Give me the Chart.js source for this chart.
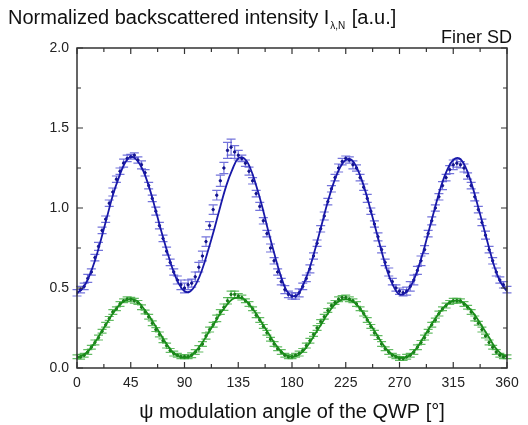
<!DOCTYPE html>
<html>
<head>
<meta charset="utf-8">
<script src="https://cdn.jsdelivr.net/npm/chart.js@4.4.1/dist/chart.umd.min.js"></script>
<style>
	html, body { margin: 0; padding: 0; background: #fff; }
	#wrap { width: 528px; height: 425px; position: relative; }
</style>
</head>
<body>
<div id="wrap"><canvas id="chart"></canvas></div>
<script>
// measured angles, every 3 degrees from 0 to 360
const dataAngles = Array.from({ length: 121 }, (_, i) => i * 3);
// fit curves, every 5 degrees
const fitAngles = Array.from({ length: 73 }, (_, i) => i * 5);

// blue series (upper) - measured
const blueData = [
	0.47,0.49,0.51,0.56,0.60,0.69,0.76,0.86,0.93,1.03,1.10,1.18,1.23,1.28,1.31,1.32,
	1.33,1.30,1.27,1.22,1.14,1.06,0.98,0.89,0.81,0.73,0.66,0.60,0.55,0.52,0.50,
	0.52,0.53,0.57,0.63,0.70,0.79,0.89,0.99,1.08,1.17,1.25,1.36,1.38,1.35,1.33,
	1.31,1.28,1.23,1.17,1.09,1.01,0.92,0.84,0.75,0.67,0.60,0.54,0.49,0.46,0.45,
	0.45,0.47,0.51,0.56,0.62,0.70,0.78,0.87,0.95,1.04,1.12,1.19,1.25,1.29,1.31,
	1.30,1.27,1.25,1.19,1.13,1.06,0.98,0.90,0.82,0.74,0.66,0.60,0.54,0.50,0.48,
	0.47,0.48,0.51,0.55,0.61,0.67,0.74,0.84,0.92,1.00,1.07,1.14,1.19,1.24,1.27,
	1.28,1.27,1.25,1.20,1.14,1.07,0.99,0.91,0.83,0.74,0.67,0.60,0.55,0.52,0.49
];
const blueErr = [
	0.02,0.02,0.02,0.025,0.02,0.02,0.025,0.02,0.02,0.02,0.025,0.02,0.02,0.025,0.02,0.015,
	0.015,0.02,0.025,0.02,0.02,0.02,0.025,0.02,0.02,0.025,0.02,0.02,0.025,0.03,0.03,
	0.03,0.025,0.03,0.03,0.03,0.03,0.025,0.03,0.03,0.035,0.035,0.05,0.05,0.04,0.03,
	0.02,0.02,0.025,0.02,0.02,0.025,0.02,0.02,0.025,0.02,0.02,0.02,0.025,0.02,0.02,
	0.02,0.025,0.02,0.02,0.025,0.02,0.02,0.02,0.025,0.02,0.02,0.02,0.025,0.02,0.015,
	0.02,0.025,0.02,0.02,0.02,0.025,0.02,0.02,0.025,0.02,0.02,0.025,0.02,0.02,0.02,
	0.02,0.025,0.03,0.03,0.025,0.03,0.025,0.02,0.025,0.02,0.02,0.025,0.02,0.025,0.03,
	0.025,0.02,0.025,0.02,0.02,0.025,0.02,0.02,0.025,0.02,0.02,0.025,0.02,0.02,0.02
];
const blueFit = [
	0.47,0.50,0.57,0.67,0.80,0.94,1.08,1.19,1.28,1.32,
	1.30,1.24,1.14,1.01,0.87,0.74,0.62,0.53,0.48,
	0.48,0.53,0.62,0.74,0.87,1.01,1.14,1.24,1.31,
	1.31,1.25,1.14,1.01,0.86,0.72,0.59,0.49,0.45,
	0.46,0.53,0.63,0.76,0.90,1.04,1.16,1.25,1.30,
	1.30,1.24,1.14,1.01,0.87,0.73,0.60,0.51,0.46,
	0.47,0.52,0.61,0.73,0.87,1.01,1.14,1.24,1.30,
	1.31,1.26,1.16,1.03,0.89,0.75,0.62,0.53,0.48
];

// green series (lower) - measured
const greenData = [
	0.07,0.07,0.08,0.10,0.13,0.16,0.19,0.23,0.27,0.31,0.35,0.37,0.40,0.42,0.43,0.43,
	0.42,0.41,0.38,0.35,0.32,0.28,0.24,0.21,0.17,0.14,0.11,0.09,0.08,0.07,0.07,
	0.07,0.08,0.10,0.12,0.15,0.20,0.24,0.27,0.31,0.35,0.38,0.42,0.46,0.46,0.45,
	0.44,0.42,0.40,0.37,0.33,0.30,0.26,0.22,0.18,0.15,0.12,0.10,0.08,0.07,0.07,
	0.08,0.09,0.11,0.14,0.17,0.21,0.25,0.29,0.32,0.36,0.39,0.41,0.43,0.44,0.44,
	0.43,0.42,0.40,0.37,0.34,0.30,0.26,0.22,0.19,0.15,0.12,0.10,0.08,0.07,0.06,
	0.06,0.07,0.08,0.10,0.13,0.16,0.19,0.23,0.27,0.30,0.34,0.37,0.39,0.41,0.42,
	0.42,0.42,0.40,0.38,0.35,0.31,0.28,0.24,0.20,0.16,0.13,0.10,0.08,0.07,0.07
];
const greenErr = [
	0.012,0.015,0.012,0.015,0.012,0.015,0.015,0.012,0.015,0.012,0.015,0.012,0.015,0.012,0.015,0.012,
	0.015,0.012,0.015,0.012,0.015,0.015,0.012,0.015,0.012,0.015,0.012,0.015,0.012,0.012,0.012,
	0.012,0.015,0.015,0.02,0.015,0.02,0.015,0.015,0.02,0.015,0.02,0.02,0.02,0.02,0.015,
	0.015,0.012,0.015,0.012,0.015,0.015,0.012,0.015,0.012,0.015,0.012,0.015,0.012,0.012,0.012,
	0.012,0.015,0.012,0.015,0.015,0.012,0.015,0.012,0.015,0.012,0.015,0.012,0.015,0.012,0.015,
	0.015,0.012,0.015,0.012,0.015,0.015,0.012,0.015,0.012,0.015,0.012,0.015,0.012,0.012,0.012,
	0.012,0.015,0.012,0.015,0.015,0.012,0.015,0.012,0.015,0.012,0.015,0.012,0.015,0.012,0.015,
	0.015,0.012,0.015,0.012,0.015,0.015,0.012,0.015,0.012,0.015,0.012,0.015,0.012,0.012,0.012
];
const greenFit = [
	0.065,0.08,0.11,0.16,0.22,0.28,0.34,0.39,0.42,0.43,
	0.42,0.38,0.33,0.27,0.21,0.15,0.10,0.075,0.065,
	0.075,0.11,0.16,0.22,0.28,0.34,0.39,0.43,0.44,
	0.43,0.39,0.34,0.28,0.22,0.16,0.11,0.08,0.07,
	0.08,0.11,0.16,0.22,0.28,0.34,0.39,0.42,0.43,
	0.42,0.39,0.34,0.28,0.22,0.16,0.11,0.08,0.065,
	0.065,0.09,0.13,0.19,0.25,0.31,0.36,0.40,0.42,
	0.42,0.40,0.36,0.31,0.25,0.19,0.13,0.09,0.07
];

const xMajor = [0, 45, 90, 135, 180, 225, 270, 315, 360];
const yMajor = [0, 0.5, 1.0, 1.5, 2.0];

const FONT = '"Liberation Sans", Arial, sans-serif';

function pts(xs, ys) {
	return xs.map((x, i) => ({ x: x, y: ys[i] }));
}

// error bars drawn under the points
const errorBars = {
	id: 'errorBars',
	beforeDatasetsDraw(chart) {
		const ctx = chart.ctx;
		const xs = chart.scales.x, ys = chart.scales.y;
		ctx.save();
		chart.data.datasets.forEach((ds) => {
			if (!ds.err) { return; }
			ctx.strokeStyle = ds.errColor;
			ctx.lineWidth = 1.2;
			ds.data.forEach((p, i) => {
				const px = xs.getPixelForValue(p.x);
				const top = ys.getPixelForValue(p.y + ds.err[i]);
				const bot = ys.getPixelForValue(p.y - ds.err[i]);
				ctx.beginPath();
				ctx.moveTo(px, top); ctx.lineTo(px, bot);
				ctx.moveTo(px - 4.5, top); ctx.lineTo(px + 4.5, top);
				ctx.moveTo(px - 4.5, bot); ctx.lineTo(px + 4.5, bot);
				ctx.stroke();
			});
		});
		ctx.restore();
	}
};

// frame, inward ticks and titles
const frame = {
	id: 'frame',
	afterDraw(chart) {
		const ctx = chart.ctx;
		const a = chart.chartArea;
		const xs = chart.scales.x, ys = chart.scales.y;
		ctx.save();
		ctx.strokeStyle = '#333';
		ctx.lineWidth = 1.5;
		ctx.strokeRect(a.left, a.top, a.right - a.left, a.bottom - a.top);
		ctx.lineWidth = 1.2;
		ctx.beginPath();
		for (let v = 0; v <= 360; v += 22.5) {
			const px = xs.getPixelForValue(v);
			const len = (v % 45 === 0) ? 6 : 4;
			ctx.moveTo(px, a.bottom); ctx.lineTo(px, a.bottom - len);
			ctx.moveTo(px, a.top); ctx.lineTo(px, a.top + len);
		}
		for (let v = 0; v <= 2.0001; v += 0.25) {
			const py = ys.getPixelForValue(v);
			const len = (Math.round(v * 100) % 50 === 0) ? 6 : 4;
			ctx.moveTo(a.left, py); ctx.lineTo(a.left + len, py);
			ctx.moveTo(a.right, py); ctx.lineTo(a.right - len, py);
		}
		ctx.stroke();

		ctx.fillStyle = '#111';
		ctx.textBaseline = 'alphabetic';
		ctx.textAlign = 'left';
		ctx.font = '20px ' + FONT;
		const t1 = 'Normalized backscattered intensity I';
		ctx.fillText(t1, 8, 24);
		let x = 8 + ctx.measureText(t1).width + 1;
		ctx.font = '10px ' + FONT;
		ctx.fillText('\u03bb,N', x, 29);
		x += ctx.measureText('\u03bb,N').width + 1;
		ctx.font = '20px ' + FONT;
		ctx.fillText(' [a.u.]', x, 24);

		ctx.font = '18px ' + FONT;
		ctx.textAlign = 'right';
		ctx.fillText('Finer SD', 512, 43);

		ctx.font = '20px ' + FONT;
		ctx.textAlign = 'center';
		ctx.fillText('\u03c8 modulation angle of the QWP [\u00b0]', (a.left + a.right) / 2, 418);
		ctx.restore();
	}
};

new Chart(document.getElementById('chart'), {
	type: 'scatter',
	data: {
		datasets: [
			{
				type: 'line', label: 'blue fit', data: pts(fitAngles, blueFit),
				borderColor: '#1818a8', borderWidth: 1.8, pointRadius: 0, tension: 0.4, order: 0
			},
			{
				type: 'line', label: 'green fit', data: pts(fitAngles, greenFit),
				borderColor: '#1a8c1a', borderWidth: 1.8, pointRadius: 0, tension: 0.4, order: 0
			},
			{
				label: 'blue', data: pts(dataAngles, blueData), err: blueErr,
				errColor: 'rgba(80, 80, 210, 0.8)',
				backgroundColor: '#12128c', borderColor: '#12128c', pointRadius: 1.2, order: 1
			},
			{
				label: 'green', data: pts(dataAngles, greenData), err: greenErr,
				errColor: 'rgba(60, 170, 60, 0.8)',
				backgroundColor: '#167816', borderColor: '#167816', pointRadius: 1.2, order: 1
			}
		]
	},
	options: {
		responsive: true,
		maintainAspectRatio: false,
		animation: false,
		layout: { padding: { top: 48, right: 21, left: 0, bottom: 0 } },
		plugins: {
			legend: { display: false },
			tooltip: { enabled: false }
		},
		scales: {
			x: {
				type: 'linear', min: 0, max: 360,
				afterBuildTicks: (s) => { s.ticks = xMajor.map((v) => ({ value: v })); },
				afterFit: (s) => { s.height = 57; },
				grid: { display: false, drawTicks: false },
				border: { display: false },
				ticks: { color: '#222', padding: 7, font: { family: FONT, size: 14 } }
			},
			y: {
				type: 'linear', min: 0, max: 2,
				afterBuildTicks: (s) => { s.ticks = yMajor.map((v) => ({ value: v })); },
				afterFit: (s) => { s.width = 77; },
				grid: { display: false, drawTicks: false },
				border: { display: false },
				ticks: { color: '#222', padding: 8, font: { family: FONT, size: 14 },
					callback: (v) => Number(v).toFixed(1) }
			}
		}
	},
	plugins: [errorBars, frame]
});
</script>
</body>
</html>
